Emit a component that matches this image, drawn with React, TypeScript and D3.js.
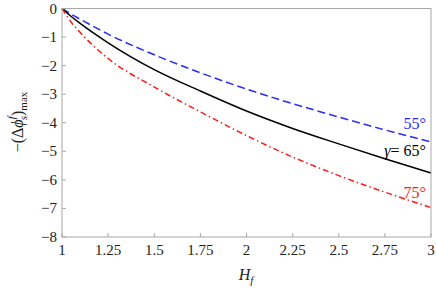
import React from 'react';
import * as d3 from 'd3';

const hf = [1, 1.05, 1.1, 1.25, 1.5, 1.75, 2, 2.25, 2.5, 2.75, 3];
const gamma55 = [0, -0.2, -0.38, -0.9, -1.62, -2.25, -2.82, -3.33, -3.8, -4.25, -4.67];
const gamma65 = [0, -0.28, -0.53, -1.2, -2.14, -2.89, -3.59, -4.2, -4.74, -5.26, -5.76];
const gamma75 = [0, -0.48, -0.85, -1.75, -2.75, -3.62, -4.45, -5.2, -5.85, -6.43, -6.97];

const xTicks = [1, 1.25, 1.5, 1.75, 2, 2.25, 2.5, 2.75, 3];
const yTicks = [0, -1, -2, -3, -4, -5, -6, -7, -8];

const W = 436;
const H = 288;
const margin = { top: 8.5, right: 5, bottom: 51, left: 62 };

const fmt = (v: number) => (v < 0 ? '\u2212' + Math.abs(v) : String(v));

export default function App() {
  const x = d3.scaleLinear().domain([1, 3]).range([margin.left, W - margin.right]);
  const y = d3.scaleLinear().domain([0, -8]).range([margin.top, H - margin.bottom]);

  const line = d3
    .line<number>()
    .x((_, i) => x(hf[i]))
    .y((d) => y(d))
    .curve(d3.curveMonotoneX);

  const series = [
    { values: gamma55, color: '#2a2aff', dash: '8,4' },
    { values: gamma65, color: '#000', dash: null },
    { values: gamma75, color: '#ff1a1a', dash: '6,3,1.5,3' },
  ];

  const font = "'Liberation Serif', 'DejaVu Serif', 'Times New Roman', Times, serif";
  const [x0, x1] = x.range();
  const [y0, y1] = y.range();

  return (
    <svg
      width={W}
      height={H}
      style={{ position: 'absolute', left: 0, top: 0, fontFamily: font }}
    >
      <rect x={0} y={0} width={W} height={H} fill="#fff" />
      {series.map((s, i) => (
        <path
          key={i}
          d={line(s.values) || ''}
          fill="none"
          stroke={s.color}
          strokeWidth={1.5}
          strokeDasharray={s.dash || undefined}
        />
      ))}
      <rect x={x0} y={y0} width={x1 - x0} height={y1 - y0} fill="none" stroke="#a8a8a8" strokeWidth={1} />
      {xTicks.map((t) => (
        <g key={t}>
          <line x1={x(t)} x2={x(t)} y1={y1} y2={y1 - 4} stroke="#a8a8a8" />
          <text x={x(t)} y={255} textAnchor="middle" fontSize={15} fill="#222">
            {t}
          </text>
        </g>
      ))}
      {yTicks.map((t) => (
        <g key={t}>
          <line x1={x0} x2={x0 + 4} y1={y(t)} y2={y(t)} stroke="#a8a8a8" />
          <text x={57} y={y(t) + 5} textAnchor="end" fontSize={15} fill="#222">
            {fmt(t)}
          </text>
        </g>
      ))}
      <text x={246} y={280} textAnchor="middle" fontSize={16} fill="#222" fontStyle="italic">
        H<tspan fontSize={11} dy={4}>f</tspan>
      </text>
      <text transform="rotate(-90)" x={-122} y={23} textAnchor="middle" fontSize={16} fill="#222">
        {'\u2212(\u0394'}
        <tspan fontStyle="italic">{'\u03d5'}</tspan>
        <tspan fontStyle="italic" fontSize={11} dy={-8}>f</tspan>
        <tspan fontStyle="italic" fontSize={11} dx={-4} dy={12}>s</tspan>
        <tspan dy={-4}>)</tspan>
        <tspan fontSize={11} dy={4}>max</tspan>
      </text>
      <text x={426} y={129} textAnchor="end" fontSize={16} fill="#2a2aff">
        55°
      </text>
      <text x={426} y={156} textAnchor="end" fontSize={16} fill="#000">
        <tspan fontStyle="italic">γ</tspan>= 65°
      </text>
      <text x={426} y={198} textAnchor="end" fontSize={16} fill="#ff1a1a">
        75°
      </text>
    </svg>
  );
}
